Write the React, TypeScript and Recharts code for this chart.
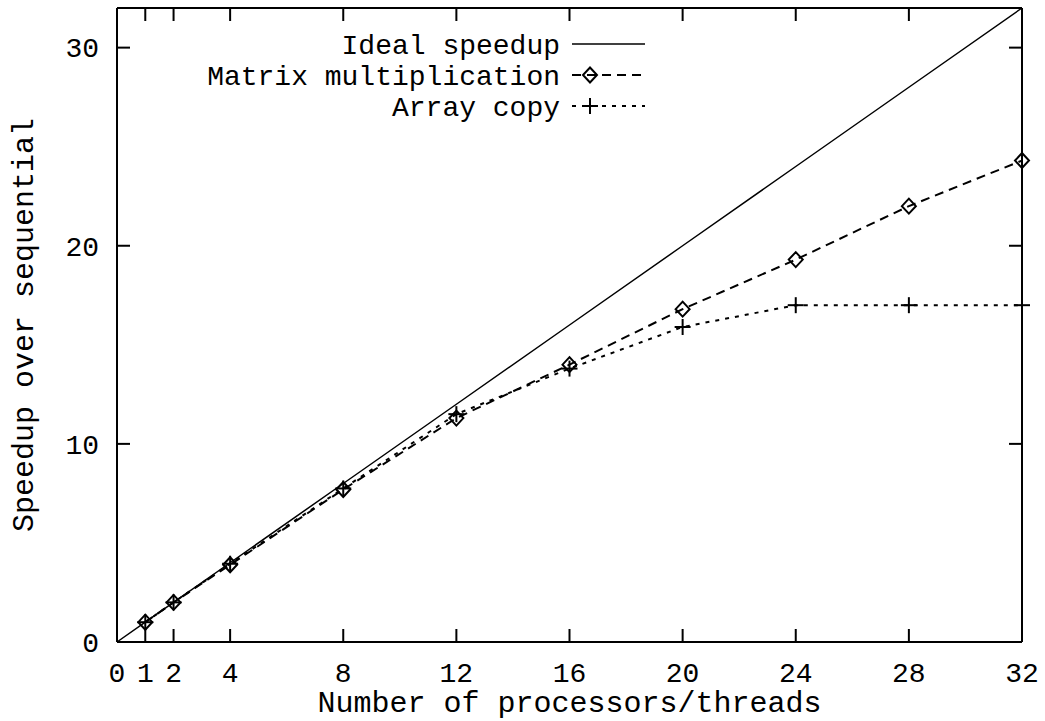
import React from 'react';
import { LineChart, Line, XAxis, YAxis, Legend } from 'recharts';

const threads = [0, 1, 2, 4, 8, 12, 16, 20, 24, 28, 32];
const idealSpeedup = [0, 1, 2, 4, 8, 12, 16, 20, 24, 28, 32];
const matrixSpeedup: (number | null)[] = [null, 1.0, 2.0, 3.9, 7.7, 11.3, 14.0, 16.8, 19.3, 22.0, 24.3];
const arrayCopySpeedup: (number | null)[] = [null, 1.0, 2.0, 3.95, 7.75, 11.5, 13.8, 15.9, 17.0, 17.0, 17.0];
const xTicks = [0, 1, 2, 4, 8, 12, 16, 20, 24, 28, 32];
const yTicks = [0, 10, 20, 30];
const seriesNames = ['Ideal speedup', 'Matrix multiplication', 'Array copy'];
const xTitle = 'Number of processors/threads';
const yTitle = 'Speedup over sequential';

const data = threads.map((t, i) => ({
  t,
  ideal: idealSpeedup[i],
  matrix: matrixSpeedup[i],
  array: arrayCopySpeedup[i],
}));

const FONT = '"Liberation Mono", "Courier New", monospace';
const FS = 28;
const TITLE_FS = 30;
const TICK = 13;

const Diamond = (props: any) => {
  const { cx, cy } = props;
  if (cx == null || cy == null) return null;
  return (
    <polygon
      points={`${cx},${cy - 7.5} ${cx + 7},${cy} ${cx},${cy + 7.5} ${cx - 7},${cy}`}
      fill="none"
      stroke="#000"
      strokeWidth={2}
    />
  );
};

const Plus = (props: any) => {
  const { cx, cy } = props;
  if (cx == null || cy == null) return null;
  return (
    <g stroke="#000" strokeWidth={2}>
      <line x1={cx - 8} y1={cy} x2={cx + 8} y2={cy} />
      <line x1={cx} y1={cy - 8} x2={cx} y2={cy + 8} />
    </g>
  );
};

const BottomTick = (props: any) => {
  const { x, y, payload } = props;
  return (
    <g>
      <line x1={x} y1={y} x2={x} y2={y - TICK} stroke="#000" strokeWidth={2} />
      <text x={x} y={y + 40} textAnchor="middle" fontFamily={FONT} fontSize={FS} fill="#000">
        {payload.value}
      </text>
    </g>
  );
};

const TopTick = (props: any) => {
  const { x, y } = props;
  return <line x1={x} y1={y} x2={x} y2={y + TICK} stroke="#000" strokeWidth={2} />;
};

const LeftTick = (props: any) => {
  const { x, y, payload } = props;
  return (
    <g>
      <line x1={x} y1={y} x2={x + TICK} y2={y} stroke="#000" strokeWidth={2} />
      <text x={x - 18} y={y} dy="0.35em" textAnchor="end" fontFamily={FONT} fontSize={FS} fill="#000">
        {payload.value}
      </text>
    </g>
  );
};

const RightTick = (props: any) => {
  const { x, y } = props;
  return <line x1={x} y1={y} x2={x - TICK} y2={y} stroke="#000" strokeWidth={2} />;
};

const XTitle = (props: any) => {
  const { viewBox } = props;
  if (!viewBox) return null;
  const cx = viewBox.x + viewBox.width / 2;
  return (
    <text x={cx} y={viewBox.y + 70} textAnchor="middle" fontFamily={FONT} fontSize={TITLE_FS} fill="#000">
      {xTitle}
    </text>
  );
};

const YTitle = (props: any) => {
  const { viewBox } = props;
  if (!viewBox) return null;
  const cy = viewBox.y + viewBox.height / 2;
  const cx = viewBox.x + 22;
  return (
    <text
      x={cx}
      y={cy}
      dy="0.35em"
      textAnchor="middle"
      transform={`rotate(-90, ${cx}, ${cy})`}
      fontFamily={FONT}
      fontSize={TITLE_FS}
      fill="#000"
    >
      {yTitle}
    </text>
  );
};

const LegendContent = () => {
  const textRight = 560;
  const s0 = 572;
  const s1 = 645;
  const mx = 590;
  const rows = [44, 75, 106];
  return (
    <svg width={700} height={140} style={{ overflow: 'visible' }}>
      {seriesNames.map((name, i) => (
        <g key={name}>
          <text
            x={textRight}
            y={rows[i]}
            dy="0.35em"
            textAnchor="end"
            fontFamily={FONT}
            fontSize={FS}
            fill="#000"
          >
            {name}
          </text>
          {i === 0 && <line x1={s0} y1={rows[i]} x2={s1} y2={rows[i]} stroke="#000" strokeWidth={1.5} />}
          {i === 1 && (
            <g>
              <line x1={s0} y1={rows[i]} x2={s1} y2={rows[i]} stroke="#000" strokeWidth={2} strokeDasharray="9 6" />
              <Diamond cx={mx} cy={rows[i]} />
            </g>
          )}
          {i === 2 && (
            <g>
              <line x1={s0} y1={rows[i]} x2={s1} y2={rows[i]} stroke="#000" strokeWidth={2} strokeDasharray="4 6" />
              <Plus cx={mx} cy={rows[i]} />
            </g>
          )}
        </g>
      ))}
    </svg>
  );
};

export default function App() {
  return (
    <div style={{ position: 'absolute', left: 0, top: 0, width: 1045, height: 721, background: '#fff' }}>
      <LineChart
        width={1045}
        height={721}
        data={data}
        margin={{ top: 7, right: 22, left: 0, bottom: 0 }}
      >
        <XAxis
          dataKey="t"
          type="number"
          domain={[0, 32]}
          ticks={xTicks}
          interval={0}
          height={79}
          tickLine={false}
          tickSize={0}
          tickMargin={0}
          tick={<BottomTick />}
          axisLine={{ stroke: '#000', strokeWidth: 2 }}
          label={<XTitle />}
        />
        <XAxis
          xAxisId="top"
          orientation="top"
          dataKey="t"
          type="number"
          domain={[0, 32]}
          ticks={xTicks}
          interval={0}
          height={1}
          tickLine={false}
          tickSize={0}
          tickMargin={0}
          tick={<TopTick />}
          axisLine={{ stroke: '#000', strokeWidth: 2 }}
        />
        <YAxis
          type="number"
          domain={[0, 32]}
          ticks={yTicks}
          interval={0}
          width={117}
          tickLine={false}
          tickSize={0}
          tickMargin={0}
          tick={<LeftTick />}
          axisLine={{ stroke: '#000', strokeWidth: 2 }}
          label={<YTitle />}
        />
        <YAxis
          yAxisId="right"
          orientation="right"
          type="number"
          domain={[0, 32]}
          ticks={yTicks}
          interval={0}
          width={1}
          tickLine={false}
          tickSize={0}
          tickMargin={0}
          tick={<RightTick />}
          axisLine={{ stroke: '#000', strokeWidth: 2 }}
        />
        <Legend
          layout="vertical"
          align="center"
          verticalAlign="middle"
          content={<LegendContent />}
          wrapperStyle={{ position: 'absolute', left: 0, top: 0, width: 700, height: 140 }}
        />
        <Line
          xAxisId="top"
          yAxisId="right"
          dataKey="ideal"
          name={seriesNames[0]}
          stroke="#000"
          strokeWidth={1.5}
          dot={false}
          type="linear"
          isAnimationActive={false}
        />
        <Line
          dataKey="matrix"
          name={seriesNames[1]}
          stroke="#000"
          strokeWidth={2}
          strokeDasharray="9 6"
          dot={<Diamond />}
          type="linear"
          isAnimationActive={false}
        />
        <Line
          dataKey="array"
          name={seriesNames[2]}
          stroke="#000"
          strokeWidth={2}
          strokeDasharray="4 6"
          dot={<Plus />}
          type="linear"
          isAnimationActive={false}
        />
      </LineChart>
    </div>
  );
}
